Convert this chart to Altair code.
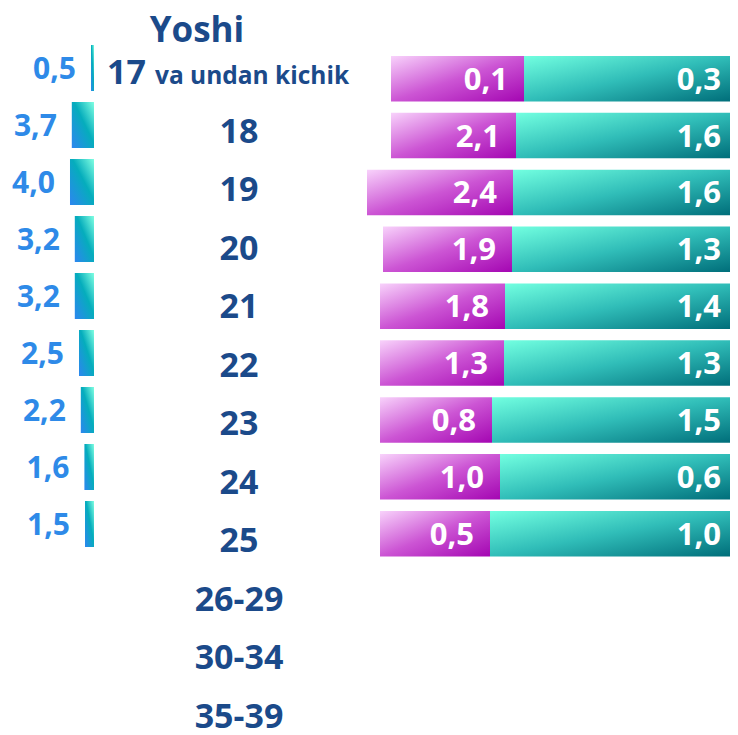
import altair as alt
import pandas as pd

# ---------------- data ----------------
ages = ["17 va undan kichik", "18", "19", "20", "21", "22", "23", "24", "25",
        "26-29", "30-34", "35-39"]
bar_ages = ages[:9]
total_vals = [0.5, 3.7, 4.0, 3.2, 3.2, 2.5, 2.2, 1.6, 1.5]
female_vals = [0.1, 2.1, 2.4, 1.9, 1.8, 1.3, 0.8, 1.0, 0.5]
male_vals = [0.3, 1.6, 1.6, 1.3, 1.4, 1.3, 1.5, 0.6, 1.0]
# bar lengths of the stacked bars as drawn in the picture (arbitrary units)
female_len = [13.3, 12.5, 14.6, 12.9, 12.5, 12.4, 11.2, 12.0, 11.0]
male_len = [20.6, 21.4, 21.7, 21.8, 22.5, 22.6, 23.8, 23.0, 24.0]

age_main = [a.split(" ")[0] for a in ages]
age_suffix = [" ".join(a.split(" ")[1:]) for a in ages]

bars_df = pd.DataFrame({
    "age": bar_ages, "total": total_vals,
    "female": female_vals, "male": male_vals,
    "flen": female_len, "mlen": male_len,
})
ages_df = pd.DataFrame({"age": ages, "main": age_main, "suffix": age_suffix})

FONT = "Open Sans"
NAVY = "#1b4a8a"
BLUE = "#2e8ae8"
H = 727

grad_blue = alt.Gradient(
    gradient="linear", x1=0, y1=1, x2=1, y2=0,
    stops=[alt.GradientStop(color="#2d86f0", offset=0),
           alt.GradientStop(color="#05adbc", offset=0.55),
           alt.GradientStop(color="#80ffe2", offset=1)])
grad_pink = alt.Gradient(
    gradient="linear", x1=0, y1=0, x2=1, y2=1,
    stops=[alt.GradientStop(color="#f8d2fb", offset=0),
           alt.GradientStop(color="#cc55d4", offset=0.5),
           alt.GradientStop(color="#a406b2", offset=1)])
grad_teal = alt.Gradient(
    gradient="linear", x1=0, y1=0, x2=1, y2=1,
    stops=[alt.GradientStop(color="#72ffe0", offset=0),
           alt.GradientStop(color="#30bdb8", offset=0.5),
           alt.GradientStop(color="#006e7a", offset=1)])

fmt = "replace(format({f}, '.1f'), '.', ',')"

# ---------------- left panel ----------------
y_left = alt.Y("age:N", sort=ages, axis=None,
               scale=alt.Scale(type="band", domain=ages, paddingInner=0.193,
                               paddingOuter=0.4737, align=0.685))
x_left = alt.Scale(domain=[0, 14.33], reverse=True, nice=False, zero=True)
left_base = alt.Chart(bars_df).transform_calculate(lab=fmt.format(f="datum.total"))
left_bars = left_base.mark_bar(color=grad_blue).encode(
    x=alt.X("total:Q", scale=x_left, axis=None), y=y_left)
left_text = left_base.mark_text(
    align="right", baseline="alphabetic", dx=-15, dy=11,
    font=FONT, fontSize=30, fontWeight="bold", color=BLUE).encode(
    x=alt.X("total:Q", scale=x_left, axis=None), y=y_left, text="lab:N")
left = alt.layer(left_bars, left_text).properties(width=86, height=H)

# ---------------- center panel ----------------
y_mid = alt.Y("age:N", sort=ages, axis=None,
              scale=alt.Scale(type="band", domain=ages, paddingInner=0.352,
                              paddingOuter=0.3845, align=1))
mid_base = alt.Chart(ages_df)
mid_plain = mid_base.transform_filter("datum.suffix == ''").mark_text(
    align="center", baseline="alphabetic", dy=12,
    font=FONT, fontSize=34, fontWeight="bold", color=NAVY).encode(
    x=alt.value(145), y=y_mid, text="main:N")
mid_num = mid_base.transform_filter("datum.suffix != ''").mark_text(
    align="left", baseline="alphabetic", dy=12,
    font=FONT, fontSize=34, fontWeight="bold", color=NAVY).encode(
    x=alt.value(13), y=y_mid, text="main:N")
mid_suf = mid_base.transform_filter("datum.suffix != ''").mark_text(
    align="left", baseline="alphabetic", dy=12,
    font=FONT, fontSize=24.5, fontWeight="bold", color=NAVY).encode(
    x=alt.value(61), y=y_mid, text="suffix:N")
header = alt.Chart(pd.DataFrame({"t": ["Yoshi"]})).mark_text(
    align="center", baseline="alphabetic",
    font=FONT, fontSize=35, fontWeight="bold", color=NAVY).encode(
    x=alt.value(103), y=alt.value(34), text="t:N")
center = alt.layer(mid_plain, mid_num, mid_suf, header).properties(width=266, height=H)

# ---------------- right panel ----------------
y_right = alt.Y("age:N", sort=ages, axis=None,
                scale=alt.Scale(type="band", domain=ages, paddingInner=0.2,
                                paddingOuter=0.491, align=0.859))
x_right = alt.Scale(domain=[0, 37], reverse=True, nice=False, zero=True)
right_base = alt.Chart(bars_df).transform_calculate(
    fend="datum.mlen + datum.flen",
    flab=fmt.format(f="datum.female"),
    mlab=fmt.format(f="datum.male"),
    zero="0")
teal_bars = right_base.mark_bar(color=grad_teal).encode(
    x=alt.X("mlen:Q", scale=x_right, axis=None), y=y_right)
pink_bars = right_base.mark_bar(color=grad_pink).encode(
    x=alt.X("mlen:Q", scale=x_right, axis=None), x2="fend:Q", y=y_right)
pink_text = right_base.mark_text(
    align="right", baseline="alphabetic", dx=-16, dy=11,
    font=FONT, fontSize=31, fontWeight="bold", color="white").encode(
    x=alt.X("mlen:Q", scale=x_right, axis=None), y=y_right, text="flab:N")
teal_text = right_base.mark_text(
    align="right", baseline="alphabetic", dx=-9, dy=11,
    font=FONT, fontSize=31, fontWeight="bold", color="white").encode(
    x=alt.X("zero:Q", scale=x_right, axis=None), y=y_right, text="mlab:N")
right = alt.layer(teal_bars, pink_bars, pink_text, teal_text).properties(width=370, height=H)

chart = alt.hconcat(left, center, right, spacing=0, bounds="flush").properties(
    padding=0
).configure(font=FONT, view=alt.ViewConfig(stroke=None))

chart.save("out.html", embed_options={"renderer": "svg", "actions": False})
